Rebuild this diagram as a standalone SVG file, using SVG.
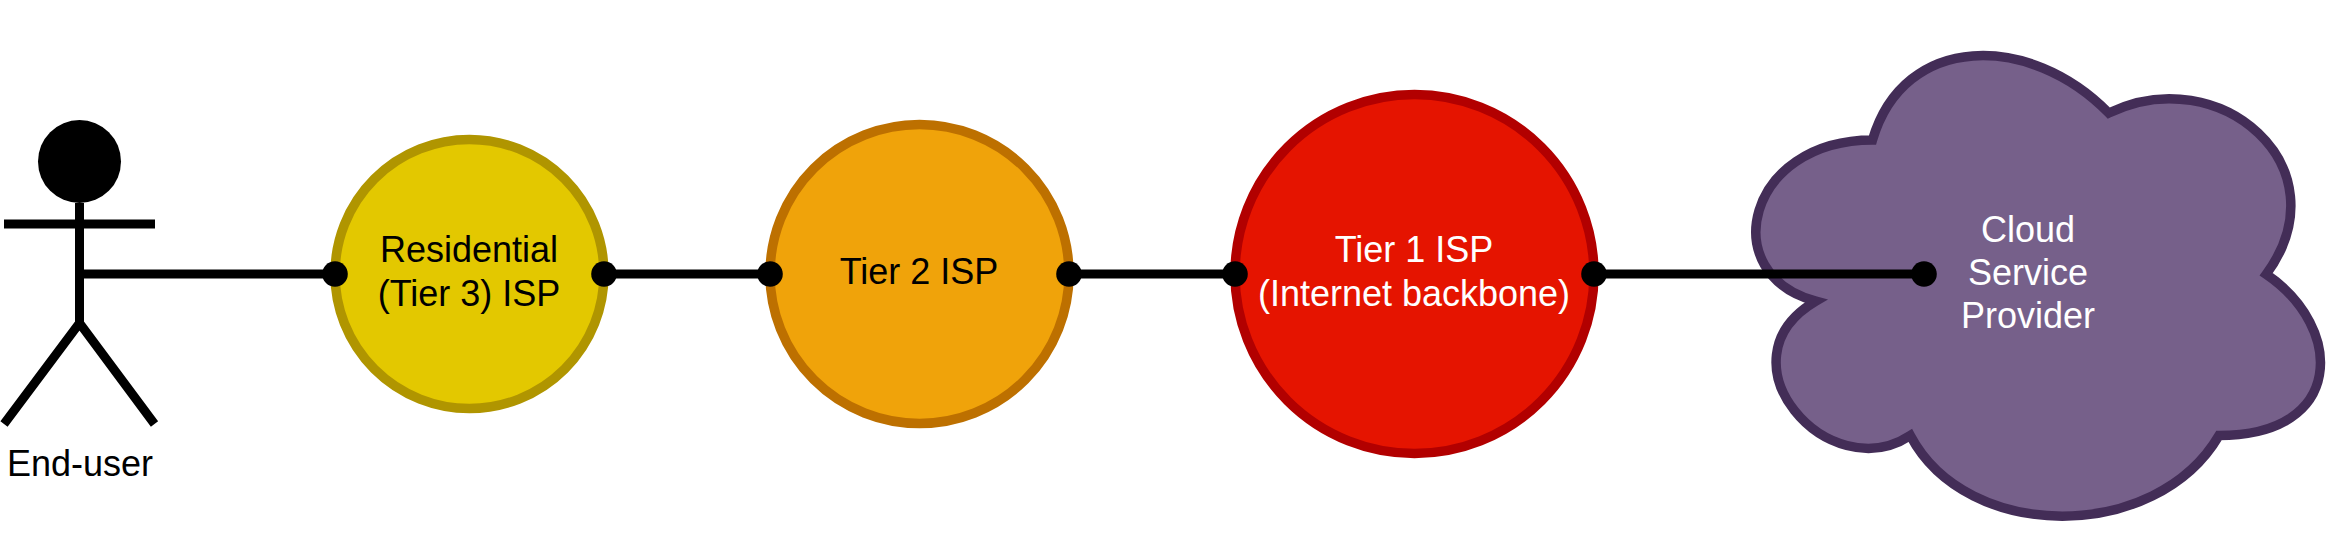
<svg xmlns="http://www.w3.org/2000/svg" width="2349" height="549" viewBox="0 0 2349 549">
<style>
text{font-family:"Liberation Sans",Arial,Helvetica,sans-serif;font-size:36px;text-anchor:middle}
.w{fill:#fff}.k{fill:#000}
.s{stroke-width:9.5;stroke-miterlimit:10}
.c{fill:none;stroke:#000;stroke-width:9;marker-end:url(#dot);marker-start:url(#dot)}
.a{fill:none;stroke:#000;stroke-width:9;stroke-miterlimit:10}
</style>
<defs>
<marker id="dot" markerUnits="userSpaceOnUse" markerWidth="28" markerHeight="28" refX="14" refY="14" orient="auto"><circle cx="14" cy="14" r="12.8" fill="#000"/></marker>
</defs>
<rect width="2349" height="549" fill="#fff"/>
<g id="cloud">
<path class="s" fill="#76608a" stroke="#432d57" d="M1872.5 139.9C1746.5 139.9 1715 274.25 1815.8 301.1C1715 360.3 1828.4 489.25 1910.3 435.5C1967 543 2156 543 2219 435.5C2345 435.5 2345 328 2266.25 274.25C2345 166.75 2219 59.25 2108.75 113C2030 32.4 1904 32.4 1872.5 139.9Z"/>
<text class="w"><tspan x="2028" y="242">Cloud</tspan><tspan x="2028" y="285">Service</tspan><tspan x="2028" y="328">Provider</tspan></text>
</g>
<g id="residential">
<circle class="s" cx="469.5" cy="274" r="134.5" fill="#e3c800" stroke="#b09500"/>
<text class="k"><tspan x="469" y="262">Residential</tspan><tspan x="469" y="306">(Tier 3) ISP</tspan></text>
</g>
<g id="tier2">
<circle class="s" cx="919.5" cy="274" r="149.5" fill="#f0a30a" stroke="#bd7000"/>
<text class="k" x="919" y="284">Tier 2 ISP</text>
</g>
<g id="tier1">
<circle class="s" cx="1414.5" cy="274" r="179.5" fill="#e51400" stroke="#b20000"/>
<text class="w"><tspan x="1414" y="262">Tier 1 ISP</tspan><tspan x="1414" y="306">(Internet backbone)</tspan></text>
</g>
<g id="end-user">
<circle cx="79.5" cy="161.5" r="41.5" fill="#000"/>
<path class="a" d="M79.5 203V323M4 224H155M4 424L79.5 323L154.5 424"/>
<text class="k" x="80" y="476">End-user</text>
</g>
<g id="connectors">
<path d="M80 274H335" fill="none" stroke="#000" stroke-width="9" marker-end="url(#dot)"/>
<path class="c" d="M604 274H770"/>
<path class="c" d="M1069 274H1235"/>
<path class="c" d="M1594 274H1924"/>
</g>
</svg>
